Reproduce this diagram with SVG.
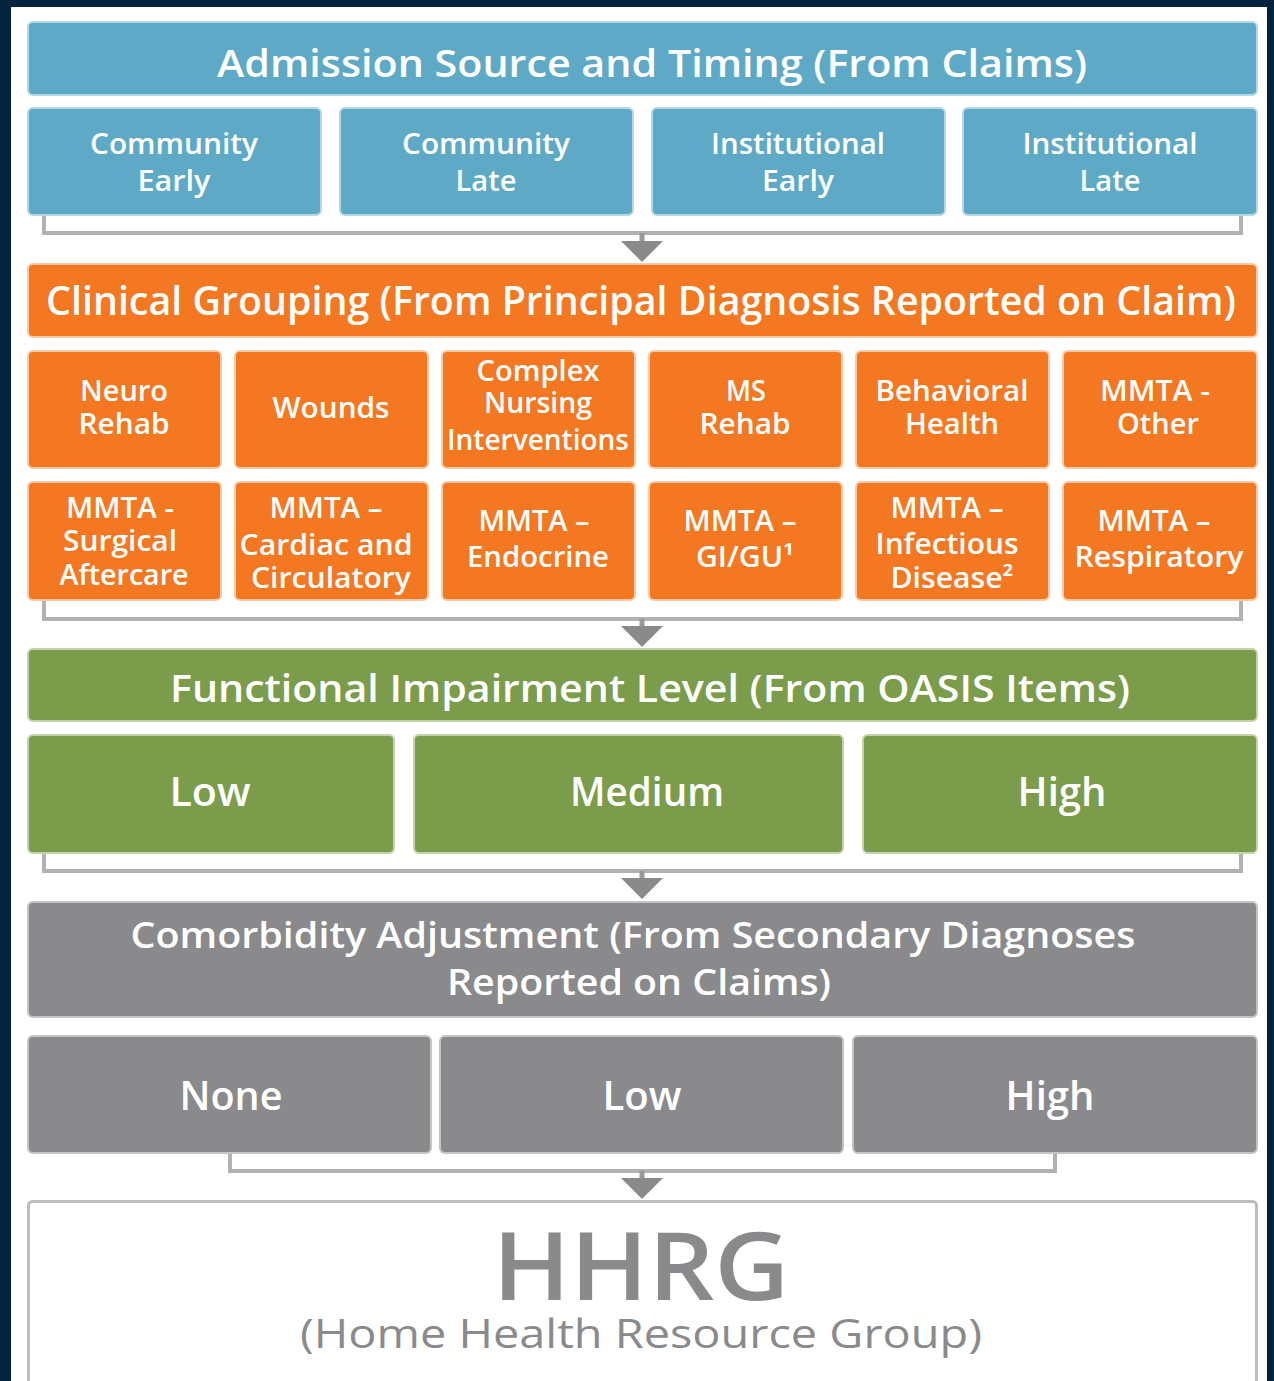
<svg xmlns="http://www.w3.org/2000/svg" width="1274" height="1381" viewBox="0 0 1274 1381">
<style>
.blue{fill:#5eaac6;stroke:#b3d9e6;stroke-width:2}
.orange{fill:#f47722;stroke:#f9c9a6;stroke-width:2}
.green{fill:#7a9c4b;stroke:#c2d2aa;stroke-width:2}
.gray{fill:#8a8a8c;stroke:#c4c4c5;stroke-width:2}
.t{font-family:"Open Sans","Noto Sans","DejaVu Sans",sans-serif;font-weight:600;fill:#ffffff;text-anchor:middle}
.h{font-size:38px}
.s{font-size:29px}
.m{font-size:28px}
.l{font-size:40px}
.br{fill:none;stroke:#b2b2b2;stroke-width:4;stroke-linejoin:miter}
.stem{stroke:#999;stroke-width:5}
.tri{fill:#8a8a8c}
</style>
<rect x="0" y="0" width="1274" height="1381" fill="#02243f"/>
<rect x="11" y="7" width="1256" height="1374" fill="#ffffff"/>

<g id="connectors">
  <path class="br" d="M44,215 V233 H1241 V215"/>
  <line class="stem" x1="642" y1="233" x2="642" y2="242"/>
  <polygon class="tri" points="621,241 663,241 642,262"/>
  <path class="br" d="M44,600 V619 H1241 V600"/>
  <line class="stem" x1="642" y1="619" x2="642" y2="627"/>
  <polygon class="tri" points="621,626 663,626 642,647"/>
  <path class="br" d="M44,853 V871 H1241 V853"/>
  <line class="stem" x1="642" y1="871" x2="642" y2="879"/>
  <polygon class="tri" points="621,878 663,878 642,899"/>
  <path class="br" d="M230,1153 V1171 H1055 V1153"/>
  <line class="stem" x1="642" y1="1171" x2="642" y2="1179"/>
  <polygon class="tri" points="621,1178 663,1178 642,1199"/>
</g>

<g id="admission-header"><rect class="blue" x="28" y="22" width="1229" height="73" rx="5"/><text class="t h" x="652" y="77" textLength="870" lengthAdjust="spacingAndGlyphs">Admission Source and Timing (From Claims)</text></g>
<g id="community-early"><rect class="blue" x="28" y="108" width="293" height="107" rx="5"/><text class="t s" x="174" y="154" textLength="168" lengthAdjust="spacingAndGlyphs">Community</text><text class="t s" x="174" y="191" textLength="73" lengthAdjust="spacingAndGlyphs">Early</text></g>
<g id="community-late"><rect class="blue" x="340" y="108" width="293" height="107" rx="5"/><text class="t s" x="486" y="154" textLength="168" lengthAdjust="spacingAndGlyphs">Community</text><text class="t s" x="486" y="191" textLength="61" lengthAdjust="spacingAndGlyphs">Late</text></g>
<g id="institutional-early"><rect class="blue" x="652" y="108" width="293" height="107" rx="5"/><text class="t s" x="798" y="154" textLength="174" lengthAdjust="spacingAndGlyphs">Institutional</text><text class="t s" x="798" y="191" textLength="72" lengthAdjust="spacingAndGlyphs">Early</text></g>
<g id="institutional-late"><rect class="blue" x="963" y="108" width="294" height="107" rx="5"/><text class="t s" x="1110" y="154" textLength="175" lengthAdjust="spacingAndGlyphs">Institutional</text><text class="t s" x="1110" y="191" textLength="61" lengthAdjust="spacingAndGlyphs">Late</text></g>

<g id="clinical-header"><rect class="orange" x="28" y="264" width="1229" height="73" rx="5"/><text class="t" style="font-size:39px" x="641" y="315" textLength="1190" lengthAdjust="spacingAndGlyphs">Clinical Grouping (From Principal Diagnosis Reported on Claim)</text></g>
<g id="neuro-rehab"><rect class="orange" x="28" y="351" width="193" height="117" rx="5"/><text class="t m" x="124" y="401" textLength="88" lengthAdjust="spacingAndGlyphs">Neuro</text><text class="t m" x="124" y="434" textLength="91" lengthAdjust="spacingAndGlyphs">Rehab</text></g>
<g id="wounds"><rect class="orange" x="235" y="351" width="193" height="117" rx="5"/><text class="t m" x="331" y="418" textLength="117" lengthAdjust="spacingAndGlyphs">Wounds</text></g>
<g id="complex-nursing"><rect class="orange" x="442" y="351" width="193" height="117" rx="5"/><text class="t m" x="538" y="381" textLength="123" lengthAdjust="spacingAndGlyphs">Complex</text><text class="t m" x="538" y="413" textLength="108" lengthAdjust="spacingAndGlyphs">Nursing</text><text class="t m" x="538" y="450" textLength="182" lengthAdjust="spacingAndGlyphs">Interventions</text></g>
<g id="ms-rehab"><rect class="orange" x="649" y="351" width="193" height="117" rx="5"/><text class="t m" x="746" y="401" textLength="40" lengthAdjust="spacingAndGlyphs">MS</text><text class="t m" x="745" y="434" textLength="91" lengthAdjust="spacingAndGlyphs">Rehab</text></g>
<g id="behavioral-health"><rect class="orange" x="856" y="351" width="193" height="117" rx="5"/><text class="t m" x="952" y="401" textLength="153" lengthAdjust="spacingAndGlyphs">Behavioral</text><text class="t m" x="952" y="434" textLength="94" lengthAdjust="spacingAndGlyphs">Health</text></g>
<g id="mmta-other"><rect class="orange" x="1063" y="351" width="194" height="117" rx="5"/><text class="t m" x="1155" y="401" textLength="110" lengthAdjust="spacingAndGlyphs">MMTA -</text><text class="t m" x="1158" y="434" textLength="82" lengthAdjust="spacingAndGlyphs">Other</text></g>

<g id="mmta-surgical"><rect class="orange" x="28" y="482" width="193" height="118" rx="5"/><text class="t m" x="120" y="518" textLength="108" lengthAdjust="spacingAndGlyphs">MMTA -</text><text class="t m" x="120" y="551" textLength="114" lengthAdjust="spacingAndGlyphs">Surgical</text><text class="t m" x="124" y="585" textLength="129" lengthAdjust="spacingAndGlyphs">Aftercare</text></g>
<g id="mmta-cardiac"><rect class="orange" x="235" y="482" width="193" height="118" rx="5"/><text class="t m" x="326" y="518" textLength="113" lengthAdjust="spacingAndGlyphs">MMTA –</text><text class="t m" x="326" y="555" textLength="173" lengthAdjust="spacingAndGlyphs">Cardiac and</text><text class="t m" x="331" y="588" textLength="160" lengthAdjust="spacingAndGlyphs">Circulatory</text></g>
<g id="mmta-endocrine"><rect class="orange" x="442" y="482" width="193" height="118" rx="5"/><text class="t m" x="534" y="531" textLength="111" lengthAdjust="spacingAndGlyphs">MMTA –</text><text class="t m" x="538" y="567" textLength="142" lengthAdjust="spacingAndGlyphs">Endocrine</text></g>
<g id="mmta-gigu"><rect class="orange" x="649" y="482" width="193" height="118" rx="5"/><text class="t m" x="740" y="531" textLength="113" lengthAdjust="spacingAndGlyphs">MMTA –</text><text class="t m" x="745" y="567" textLength="98" lengthAdjust="spacingAndGlyphs">GI/GU¹</text></g>
<g id="mmta-infectious"><rect class="orange" x="856" y="482" width="193" height="118" rx="5"/><text class="t m" x="947" y="518" textLength="113" lengthAdjust="spacingAndGlyphs">MMTA –</text><text class="t m" x="947" y="554" textLength="143" lengthAdjust="spacingAndGlyphs">Infectious</text><text class="t m" x="952" y="588" textLength="123" lengthAdjust="spacingAndGlyphs">Disease²</text></g>
<g id="mmta-respiratory"><rect class="orange" x="1063" y="482" width="194" height="118" rx="5"/><text class="t m" x="1154" y="531" textLength="113" lengthAdjust="spacingAndGlyphs">MMTA –</text><text class="t m" x="1159" y="567" textLength="169" lengthAdjust="spacingAndGlyphs">Respiratory</text></g>

<g id="functional-header"><rect class="green" x="28" y="649" width="1229" height="72" rx="5"/><text class="t h" x="650" y="702" textLength="960" lengthAdjust="spacingAndGlyphs">Functional Impairment Level (From OASIS Items)</text></g>
<g id="func-low"><rect class="green" x="28" y="735" width="366" height="118" rx="5"/><text class="t l" x="210" y="806" textLength="81" lengthAdjust="spacingAndGlyphs">Low</text></g>
<g id="func-medium"><rect class="green" x="414" y="735" width="429" height="118" rx="5"/><text class="t l" x="647" y="806" textLength="154" lengthAdjust="spacingAndGlyphs">Medium</text></g>
<g id="func-high"><rect class="green" x="863" y="735" width="394" height="118" rx="5"/><text class="t l" x="1062" y="806" textLength="89" lengthAdjust="spacingAndGlyphs">High</text></g>

<g id="comorbidity-header"><rect class="gray" x="28" y="902" width="1229" height="115" rx="5"/><text class="t" style="font-size:36px" x="633" y="948" textLength="1005" lengthAdjust="spacingAndGlyphs">Comorbidity Adjustment (From Secondary Diagnoses</text><text class="t" style="font-size:36px" x="639" y="995" textLength="384" lengthAdjust="spacingAndGlyphs">Reported on Claims)</text></g>
<g id="como-none"><rect class="gray" x="28" y="1036" width="403" height="117" rx="5"/><text class="t l" x="231" y="1110" textLength="103" lengthAdjust="spacingAndGlyphs">None</text></g>
<g id="como-low"><rect class="gray" x="440" y="1036" width="403" height="117" rx="5"/><text class="t l" x="642" y="1110" textLength="79" lengthAdjust="spacingAndGlyphs">Low</text></g>
<g id="como-high"><rect class="gray" x="853" y="1036" width="404" height="117" rx="5"/><text class="t l" x="1050" y="1110" textLength="89" lengthAdjust="spacingAndGlyphs">High</text></g>

<g id="hhrg"><rect x="28.5" y="1201.5" width="1228" height="220" rx="4" fill="#ffffff" stroke="#bdbdbd" stroke-width="3"/><text x="641" y="1300" text-anchor="middle" style="font-family:'Open Sans','Noto Sans',sans-serif;font-weight:600;font-size:95px;fill:#8a8a8c" textLength="297" lengthAdjust="spacingAndGlyphs">HHRG</text><text x="641" y="1348" text-anchor="middle" style="font-family:'Open Sans','Noto Sans',sans-serif;font-weight:400;font-size:40px;fill:#8a8a8c" textLength="682" lengthAdjust="spacingAndGlyphs">(Home Health Resource Group)</text></g>
</svg>
